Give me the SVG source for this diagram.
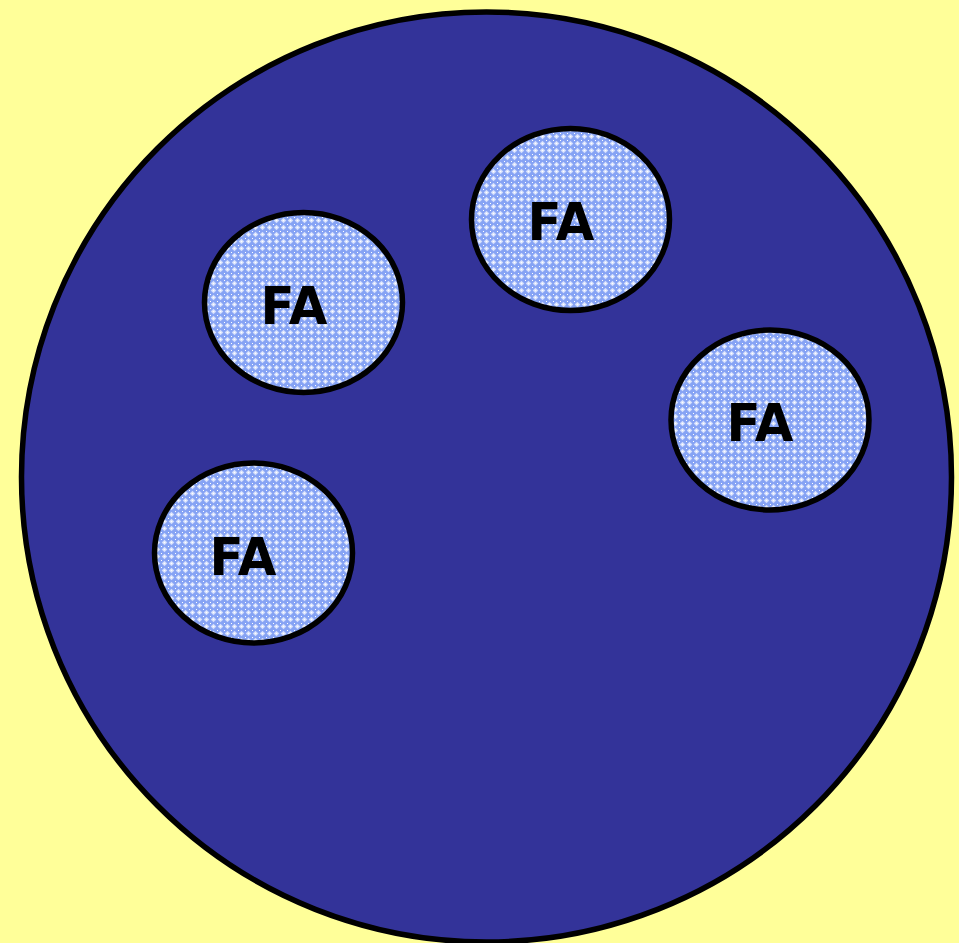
<svg xmlns="http://www.w3.org/2000/svg" width="959" height="943" viewBox="0 0 959 943">
<defs>
<pattern id="dots" width="7" height="7" patternUnits="userSpaceOnUse">
<rect width="7" height="7" fill="#86a3f4"/>
<path d="M3.5 0.7 L6.3 3.5 L3.5 6.3 L0.7 3.5 Z" fill="#d2ddfc"/>
<rect x="2.7" y="2.7" width="1.6" height="1.6" fill="#ffffff"/>
<rect x="0" y="0" width="1" height="1" fill="#ffffff"/>
</pattern>
</defs>
<style>
.fa{fill:url(#dots);stroke:#000;stroke-width:5.5}
.t{font-family:"DejaVu Sans",Verdana,sans-serif;font-weight:bold;font-size:51px;fill:#000;text-anchor:middle}
</style>
<rect width="959" height="943" fill="#ffff99"/>
<g id="cell">
<ellipse cx="486.5" cy="477" rx="465" ry="465" fill="#333399" stroke="#000" stroke-width="5.5"/>
</g>
<g id="connectors"></g>
<g id="fa1"><ellipse class="fa" cx="570.5" cy="219.5" rx="99" ry="91"/><text class="t" x="561" y="240" textLength="67" lengthAdjust="spacingAndGlyphs">FA</text></g>
<g id="fa2"><ellipse class="fa" cx="303.5" cy="302.5" rx="99" ry="90"/><text class="t" x="294" y="324" textLength="67" lengthAdjust="spacingAndGlyphs">FA</text></g>
<g id="fa3"><ellipse class="fa" cx="770" cy="420" rx="99" ry="90"/><text class="t" x="760" y="441" textLength="67" lengthAdjust="spacingAndGlyphs">FA</text></g>
<g id="fa4"><ellipse class="fa" cx="253.5" cy="553" rx="99" ry="90"/><text class="t" x="243" y="575" textLength="67" lengthAdjust="spacingAndGlyphs">FA</text></g>
</svg>
